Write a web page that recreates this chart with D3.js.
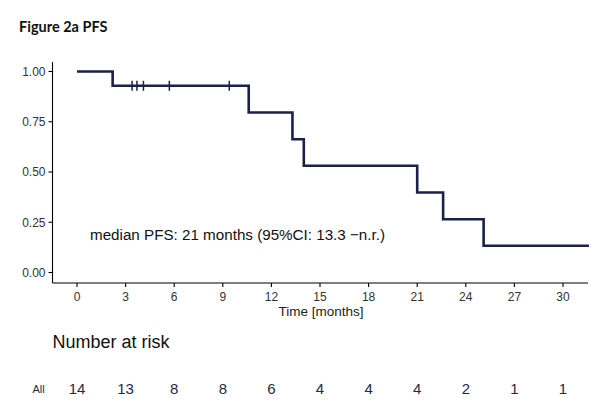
<!DOCTYPE html>
<html>
<head>
<meta charset="utf-8">
<script src="https://cdn.jsdelivr.net/npm/d3@7"></script>
<style>
  html, body { margin: 0; padding: 0; background: #fff; }
  svg { display: block; }
</style>
</head>
<body>
<script>
// ---- data ----
const stepTimes = [0, 2.2, 10.6, 13.3, 14.0, 21.0, 22.6, 25.1];
const stepSurv  = [1.0, 0.929, 0.796, 0.663, 0.531, 0.398, 0.265, 0.133];
const endTime = 31.6;
const censorTimes = [3.4, 3.7, 4.1, 5.7, 9.4];
const xTicks = [0, 3, 6, 9, 12, 15, 18, 21, 24, 27, 30];
const yTicks = [0, 0.25, 0.5, 0.75, 1.0];
const riskTimes = [0, 3, 6, 9, 12, 15, 18, 21, 24, 27, 30];
const riskAll = [14, 13, 8, 8, 6, 4, 4, 4, 2, 1, 1];

const W = 608, H = 414;
const svg = d3.select("body").append("svg").attr("width", W).attr("height", H);
const lineColor = "#1b2148";
const font = "'Liberation Sans', Arial, sans-serif";

const x = d3.scaleLinear().domain([0, 30]).range([77, 563]);
const y = d3.scaleLinear().domain([0, 1]).range([272.5, 71.5]);
const xLeft = 52.5, xRight = 588, yTop = 62, yBottom = 283;

// title
svg.append("text").attr("x", 19).attr("y", 32)
  .attr("font-family", "Lato, 'Open Sans', sans-serif").attr("font-weight", "bold")
  .attr("font-size", 14.5).attr("fill", "#111").text("Figure 2a PFS");

// axes lines
svg.append("line").attr("x1", xLeft).attr("x2", xLeft).attr("y1", yTop).attr("y2", yBottom)
  .attr("stroke", "#000").attr("stroke-width", 1.1);
svg.append("line").attr("x1", xLeft).attr("x2", xRight).attr("y1", yBottom).attr("y2", yBottom)
  .attr("stroke", "#000").attr("stroke-width", 1.1);

// y ticks
const yg = svg.append("g");
yTicks.forEach(v => {
  yg.append("line").attr("x1", xLeft - 4).attr("x2", xLeft).attr("y1", y(v)).attr("y2", y(v))
    .attr("stroke", "#000").attr("stroke-width", 1.1);
  yg.append("text").attr("x", xLeft - 7).attr("y", y(v)).attr("dy", "0.36em")
    .attr("text-anchor", "end").attr("font-family", font).attr("font-size", 12)
    .attr("fill", "#333").text(d3.format(".2f")(v));
});
// x ticks
const xg = svg.append("g");
xTicks.forEach(v => {
  xg.append("line").attr("x1", x(v)).attr("x2", x(v)).attr("y1", yBottom).attr("y2", yBottom + 4)
    .attr("stroke", "#000").attr("stroke-width", 1.1);
  xg.append("text").attr("x", x(v)).attr("y", yBottom + 18)
    .attr("text-anchor", "middle").attr("font-family", font).attr("font-size", 12)
    .attr("fill", "#333").text(v);
});
svg.append("text").attr("x", 321).attr("y", 316).attr("text-anchor", "middle")
  .attr("font-family", font).attr("font-size", 13.5).attr("fill", "#222").text("Time [months]");

// KM step curve
const pts = stepTimes.map((t, i) => [t, stepSurv[i]]);
pts.push([endTime, stepSurv[stepSurv.length - 1]]);
const line = d3.line().x(d => x(d[0])).y(d => y(d[1])).curve(d3.curveStepAfter);
svg.append("path").datum(pts).attr("d", line).attr("fill", "none")
  .attr("stroke", lineColor).attr("stroke-width", 2.6).attr("stroke-linejoin", "miter");

// censor marks
function survAt(t) {
  let s = 1;
  stepTimes.forEach((st, i) => { if (st <= t) s = stepSurv[i]; });
  return s;
}
censorTimes.forEach(t => {
  const cx = x(t), cy = y(survAt(t));
  svg.append("line").attr("x1", cx).attr("x2", cx).attr("y1", cy - 5).attr("y2", cy + 5)
    .attr("stroke", lineColor).attr("stroke-width", 1.5);
  svg.append("line").attr("x1", cx - 4).attr("x2", cx + 4).attr("y1", cy).attr("y2", cy)
    .attr("stroke", lineColor).attr("stroke-width", 1.5);
});

// annotation
svg.append("text").attr("x", 90).attr("y", 240).attr("font-family", font)
  .attr("font-size", 15.2).attr("fill", "#111")
  .text("median PFS: 21 months (95%CI: 13.3 \u2212n.r.)");

// risk table
svg.append("text").attr("x", 52.5).attr("y", 347.5).attr("font-family", font)
  .attr("font-size", 18).attr("fill", "#111").text("Number at risk");
svg.append("text").attr("x", 32.5).attr("y", 392.5).attr("font-family", font)
  .attr("font-size", 11).attr("fill", "#1f2a48").text("All");
riskTimes.forEach((t, i) => {
  svg.append("text").attr("x", x(t)).attr("y", 394).attr("text-anchor", "middle")
    .attr("font-family", font).attr("font-size", 15).attr("fill", "#1f2a48").text(riskAll[i]);
});
</script>
</body>
</html>
